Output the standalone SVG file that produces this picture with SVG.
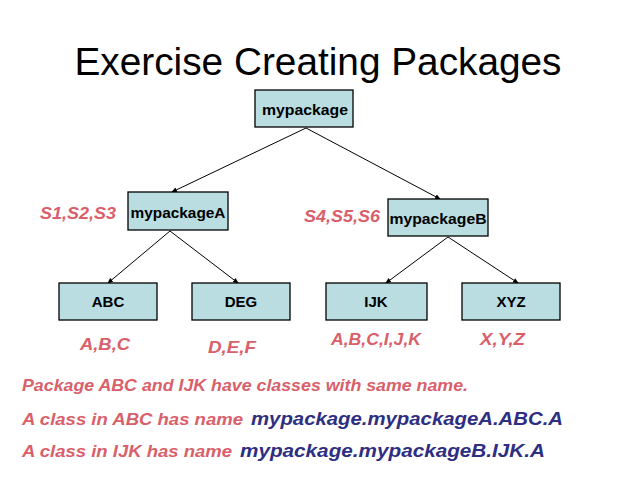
<svg xmlns="http://www.w3.org/2000/svg" width="638" height="479" viewBox="0 0 638 479">
<style>
.box{fill:#b9dde0;stroke:#000;stroke-width:1.3}
.bt{font-family:"Liberation Sans",Arial,sans-serif;font-weight:bold;font-size:15px;text-anchor:middle;fill:#000}
.r{font-family:"Liberation Sans",Arial,sans-serif;font-weight:bold;font-style:italic;font-size:17px;fill:#d9606a}
.b{font-family:"Liberation Sans",Arial,sans-serif;font-weight:bold;font-style:italic;font-size:19px;fill:#2e2e82}
.c{stroke:#000;stroke-width:1;fill:none;marker-end:url(#ah)}
</style>
<defs><marker id="ah" markerWidth="6" markerHeight="6" refX="5" refY="3" orient="auto"><path d="M0,0.5 L6,3 L0,5.5z" fill="#000"/></marker></defs>
<rect width="638" height="479" fill="#fff"/>
<text x="318" y="75" text-anchor="middle" font-family="Liberation Sans,Arial,sans-serif" font-size="38" textLength="487" lengthAdjust="spacingAndGlyphs">Exercise Creating Packages</text>
<g id="connectors">
<line class="c" x1="306" y1="128" x2="172" y2="192"/>
<line class="c" x1="306" y1="128" x2="440" y2="199"/>
<line class="c" x1="170" y1="231" x2="108" y2="283"/>
<line class="c" x1="170" y1="231" x2="238" y2="283"/>
<line class="c" x1="448" y1="237" x2="386" y2="283"/>
<line class="c" x1="448" y1="237" x2="518" y2="283"/>
</g>
<g id="mypackage"><rect class="box" x="255" y="90" width="98" height="37"/><text class="bt" x="305" y="115" textLength="86" lengthAdjust="spacingAndGlyphs">mypackage</text></g>
<g id="mypackageA"><rect class="box" x="128" y="192" width="100" height="38"/><text class="bt" x="178" y="218" textLength="95" lengthAdjust="spacingAndGlyphs">mypackageA</text></g>
<g id="mypackageB"><rect class="box" x="388" y="199" width="100" height="37"/><text class="bt" x="438" y="224" textLength="97" lengthAdjust="spacingAndGlyphs">mypackageB</text></g>
<g id="ABC"><rect class="box" x="59" y="283" width="98" height="37"/><text class="bt" x="108" y="307">ABC</text></g>
<g id="DEG"><rect class="box" x="192" y="283" width="98" height="37"/><text class="bt" x="241" y="307">DEG</text></g>
<g id="IJK"><rect class="box" x="326" y="283" width="101" height="37"/><text class="bt" x="376" y="307">IJK</text></g>
<g id="XYZ"><rect class="box" x="462" y="283" width="98" height="37"/><text class="bt" x="511" y="307">XYZ</text></g>
<text class="r" x="40" y="219" textLength="76" lengthAdjust="spacingAndGlyphs">S1,S2,S3</text>
<text class="r" x="304" y="222" textLength="76" lengthAdjust="spacingAndGlyphs">S4,S5,S6</text>
<text class="r" x="80" y="350" textLength="50" lengthAdjust="spacingAndGlyphs">A,B,C</text>
<text class="r" x="208" y="353" textLength="48" lengthAdjust="spacingAndGlyphs">D,E,F</text>
<text class="r" x="331" y="345" textLength="90" lengthAdjust="spacingAndGlyphs">A,B,C,I,J,K</text>
<text class="r" x="480" y="345" textLength="45" lengthAdjust="spacingAndGlyphs">X,Y,Z</text>
<text class="r" x="22" y="391" textLength="446" lengthAdjust="spacingAndGlyphs">Package ABC and IJK have classes with same name.</text>
<text class="r" x="22" y="425" textLength="221" lengthAdjust="spacingAndGlyphs">A class in ABC  has name</text>
<text class="b" x="251" y="425" textLength="312" lengthAdjust="spacingAndGlyphs">mypackage.mypackageA.ABC.A</text>
<text class="r" x="22" y="457" textLength="210" lengthAdjust="spacingAndGlyphs">A class in IJK  has name</text>
<text class="b" x="240" y="457" textLength="305" lengthAdjust="spacingAndGlyphs">mypackage.mypackageB.IJK.A</text>
</svg>
